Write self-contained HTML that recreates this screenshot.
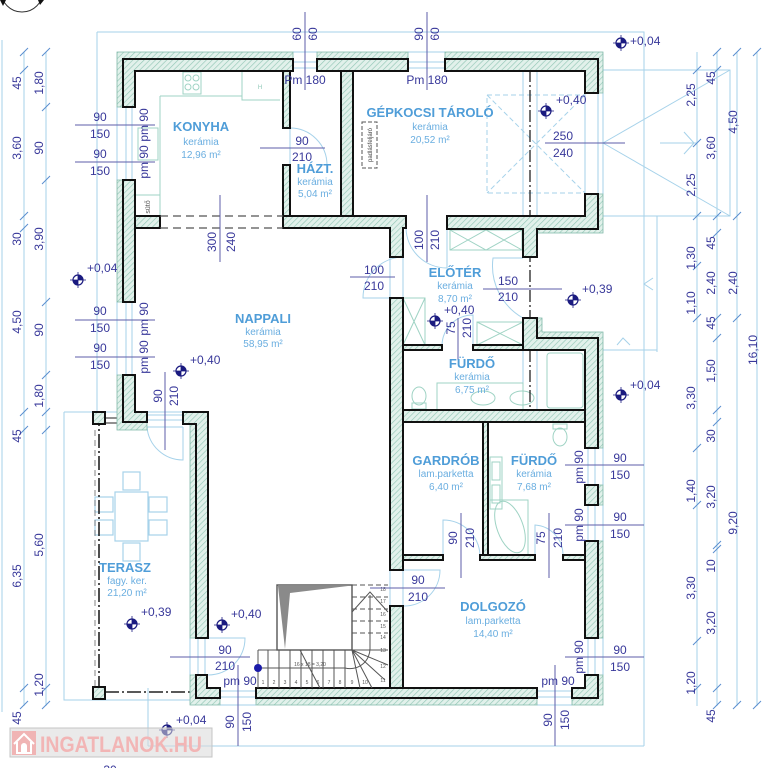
<!DOCTYPE html>
<html><head><meta charset="utf-8">
<style>
html,body{margin:0;padding:0;background:#fff;width:777px;height:768px;overflow:hidden}
svg{display:block}
.d{fill:#38389a;font-size:12px;text-anchor:middle}
.t{fill:#4f9dd8;font-size:13px;font-weight:bold;text-anchor:middle}
.s{fill:#6aaee0;font-size:10px;text-anchor:middle}
.lv{fill:#38389a;font-size:12px}
</style></head>
<body>
<svg width="777" height="768" viewBox="0 0 777 768" xmlns="http://www.w3.org/2000/svg" font-family="Liberation Sans, Arial, sans-serif">
<defs>
<pattern id="h" width="4" height="4" patternUnits="userSpaceOnUse" patternTransform="rotate(45)"><rect width="4" height="4" fill="#e2f1eb"/><line x1="0" y1="0" x2="0" y2="4" stroke="#93c7b6" stroke-width="1.3"/></pattern>
<g id="lv"><circle r="5" fill="#fff" stroke="#1b1b80" stroke-width="1.2"/><path d="M0,0V-5A5,5 0 0 1 5,0Z M0,0V5A5,5 0 0 1 -5,0Z" fill="#1b1b80"/><path d="M-8,0H8M0,-8V8" stroke="#1b1b80" stroke-width="0.8"/></g>
</defs>

<!-- north arrow partial -->
<circle cx="22" cy="-9" r="21" fill="none" stroke="#333" stroke-width="1"/>
<path d="M0,0 L6,0 L3,6Z" fill="#111"/><path d="M38,0 L44,0 L40,5Z" fill="#111"/>

<!-- light outline lines -->
<g fill="none" stroke="#a6d2ea" stroke-width="1">
<path d="M97,32 H644 V746"/>
<path d="M97,32 V412"/>
<path d="M148,746 H644"/><path d="M148,688 V746"/>
<path d="M2,40 V712"/><path d="M24,52 V706"/><path d="M46,52 V706"/>
<path d="M697,52 V706"/><path d="M717,52 V706"/><path d="M737,52 V706"/><path d="M757,52 V706"/>
<path d="M598,70 H730 V216 H598"/><path d="M603,143 L730,70"/><path d="M603,143 L730,216"/>
<path d="M660,143 H697"/><path d="M684,132 L694,143 L684,154"/>
<path d="M644,216 V352"/><path d="M657,216 V352"/><path d="M598,350 H657"/>
<path d="M653,278 L644,284 L653,290"/><path d="M617,345 L623,338 L630,345"/>
<path d="M64,412 H190"/><path d="M64,412 V700 H196"/>
<path d="M523,71 V216"/><path d="M537,71 V216"/><path d="M523,350 V410"/><path d="M537,350 V410"/>
<!-- windows -->
<path d="M117,107 V180 M126,107 V180 M132,107 V180"/>
<path d="M117,302 V375 M126,302 V375 M132,302 V375"/>
<path d="M293,52 H317 M293,62 H317 M293,68 H317"/>
<path d="M408,52 H445 M408,62 H445 M408,68 H445"/>
<path d="M220,691 H256 M220,697 H256 M220,705 H256"/>
<path d="M537,691 H572 M537,697 H572 M537,705 H572"/>
<path d="M588,448 V485 M595,448 V485 M603,448 V485"/>
<path d="M588,505 V541 M595,505 V541 M603,505 V541"/>
<path d="M588,638 V675 M595,638 V675 M603,638 V675"/>
<path d="M585,93 V194 M598,93 V194 M603,93 V194"/>
<path d="M147,415 H183 M147,420 H183 M147,427 H183"/>
<path d="M190,638 V675 M198,638 V675 M205,638 V675"/>
<path d="M403,257 V298 M390,257 V298"/>
<path d="M390,570 V606 M403,570 V606"/>
<!-- door arcs -->
<path d="M290,165 V128 A37,37 0 0 1 327,165"/>
<path d="M403,298 H363 A41,41 0 0 1 403,257"/>
<path d="M447,228 V268 A41,41 0 0 1 406,228"/>
<path d="M523,258 H493 A60,60 0 0 0 523,318"/>
<path d="M473,345 V315 A31,31 0 0 0 442,345"/>
<path d="M183,427 V460 A36,36 0 0 1 147,427"/>
<path d="M443,555 V520 A37,37 0 0 1 480,555"/>
<path d="M535,555 V525 A30,30 0 0 1 563,555"/>
<path d="M403,570 H440 A36,36 0 0 1 403,606"/>
<path d="M208,638 H245 A37,37 0 0 1 208,675"/>
<rect x="487" y="95" width="98" height="98" stroke-dasharray="5,3"/>
<path d="M487,95 L585,193 M585,95 L487,193" stroke-dasharray="5,3"/>
</g>

<!-- kitchen / fixtures -->
<g fill="none" stroke="#9fd3c4" stroke-width="1">
<path d="M160,96 H242"/><path d="M242,72 V100 H280"/>
<rect x="183" y="72" width="18" height="22"/>
<circle cx="188" cy="78" r="3"/><circle cx="196" cy="78" r="3"/><circle cx="188" cy="87" r="3"/><circle cx="196" cy="87" r="3"/>
<path d="M160,96 V216"/><rect x="138" y="128" width="20" height="32"/><rect x="135" y="195" width="25" height="21"/>
<rect x="450" y="230" width="72" height="20"/><path d="M450,230 L486,250 L522,230 M450,250 L486,230 L522,250"/>
<rect x="403" y="298" width="22" height="47"/><path d="M403,298 L425,345 M425,298 L403,345"/>
<rect x="477" y="322" width="46" height="23"/><path d="M477,322 L523,345 M523,322 L477,345"/>
<ellipse cx="419" cy="396" rx="7" ry="9"/><rect x="412" y="403" width="14" height="6"/>
<rect x="437" y="383" width="86" height="27"/><ellipse cx="483" cy="398" rx="12" ry="7"/><ellipse cx="522" cy="398" rx="12" ry="7"/>
<rect x="547" y="353" width="36" height="55" rx="3"/>
<ellipse cx="560" cy="437" rx="7" ry="9"/><rect x="553" y="424" width="14" height="5"/>
<rect x="490" y="457" width="12" height="52"/><rect x="492" y="462" width="8" height="18"/><rect x="492" y="485" width="8" height="18"/>
<path d="M490,500 H528 V555"/><ellipse cx="510" cy="527" rx="13" ry="27" transform="rotate(-20 510 527)"/>
</g>
<g fill="none" stroke="#a6d2ea" stroke-width="1.2">
<rect x="115" y="492" width="33" height="49"/>
<rect x="123" y="472" width="17" height="18"/><rect x="123" y="543" width="17" height="18"/>
<rect x="95" y="497" width="18" height="15"/><rect x="95" y="520" width="18" height="15"/>
<rect x="149" y="497" width="18" height="15"/><rect x="149" y="520" width="18" height="15"/>
</g>
<text x="260" y="89" font-size="6" fill="#8fc8b8" text-anchor="middle">H</text>
<text transform="translate(150,207) rotate(-90)" font-size="7" fill="#555" text-anchor="middle">sütő</text>

<!-- garage dash-dot line -->
<path d="M530,70 V423" stroke="#222" stroke-width="1.3" stroke-dasharray="12,3,2,3" fill="none"/>
<!-- terrace dash-dot -->
<path d="M99,412 V692 H196" stroke="#222" stroke-width="1.6" stroke-dasharray="14,3,2,3" fill="none"/>
<path d="M95,430 V690" stroke="#666" stroke-width="0.8" stroke-dasharray="6,4" fill="none"/>
<path d="M105,418 H130 M105,423 H130" stroke="#222" stroke-width="1" fill="none"/>

<!-- padlasfeljaro -->
<rect x="362" y="122" width="15" height="46" fill="none" stroke="#555" stroke-width="1" stroke-dasharray="4,2"/>
<text transform="translate(372,145) rotate(-90)" font-size="6" fill="#444" text-anchor="middle">padlásfeljáró</text>

<!-- insulation layers -->
<g fill="url(#h)" stroke="#7fb8a8" stroke-width="0.8">
<path d="M117,52 H293 V59 H123 V107 H117 Z"/>
<path d="M117,180 H123 V302 H117 Z"/>
<path d="M117,375 H123 V422 H147 V430 H117 Z"/>
<path d="M190,424 H196 V638 H190 Z"/>
<path d="M190,675 H196 V698 H220 V705 H190 Z"/>
<path d="M256,698 H537 V705 H256 Z"/>
<path d="M598,675 H603 V705 H572 V698 H598 Z"/>
<path d="M598,541 H603 V638 H598 Z"/>
<path d="M598,485 H603 V505 H598 Z"/>
<path d="M537,318 H542 V332 H603 V448 H598 V338 H537 Z"/>
<path d="M445,52 H603 V93 H598 V59 H445 Z"/>
<path d="M317,52 H408 V59 H317 Z"/>
<path d="M598,194 H603 V233 H537 V229 H598 Z"/>
</g>

<!-- structural walls -->
<g fill="url(#h)" stroke="#111" stroke-width="2" stroke-linejoin="miter">
<path d="M123,59 H293 V71 H135 V107 H123 Z"/>
<path d="M123,180 H135 V302 H123 Z"/>
<path d="M135,216 H160 V228 H135 Z"/>
<path d="M123,375 H135 V412 H147 V422 H123 Z"/>
<path d="M183,412 H208 V638 H196 V424 H183 Z"/>
<path d="M196,675 H207 V688 H220 V698 H196 Z"/>
<path d="M256,688 H537 V698 H256 Z"/>
<path d="M572,688 H585 V675 H598 V698 H572 Z"/>
<path d="M585,541 H598 V638 H585 Z"/>
<path d="M585,485 H598 V505 H585 Z"/>
<path d="M523,318 H537 V338 H598 V448 H585 V350 H523 Z"/>
<path d="M445,59 H598 V93 H585 V71 H445 Z"/>
<path d="M317,59 H408 V71 H317 Z"/>
<path d="M585,194 H598 V229 H537 V257 H523 V229 H447 V216 H585 Z"/>
<path d="M283,216 H406 V228 H403 V257 H390 V228 H283 Z"/>
<path d="M283,71 H290 V128 H283 Z"/>
<path d="M283,165 H290 V216 H283 Z"/>
<path d="M341,71 H353 V216 H341 Z"/>
<path d="M390,298 H403 V570 H390 Z"/>
<path d="M390,606 H403 V688 H390 Z"/>
<path d="M403,345 H442 V350 H403 Z"/>
<path d="M473,345 H523 V350 H473 Z"/>
<path d="M403,410 H585 V422 H403 Z"/>
<path d="M483,422 H488 V555 H483 Z"/>
<path d="M403,555 H443 V560 H403 Z"/>
<path d="M480,555 H535 V560 H480 Z"/>
<path d="M563,555 H585 V560 H563 Z"/>
<rect x="93" y="412" width="12" height="12"/>
<rect x="93" y="687" width="12" height="12"/>
</g>
<!-- kitchen/nappali dashed beam -->
<path d="M160,216 H283 M160,228 H283" stroke="#555" stroke-width="1.2" stroke-dasharray="8,5" fill="none"/>

<!-- stairs -->
<g fill="none" stroke="#555" stroke-width="1">
<path d="M258,650 V688 M258,650 H277"/>
<path d="M268,650 V688 M279,650 V688 M290,650 V688 M301,650 V688 M312,650 V688 M323,650 V688 M334,650 V688 M345,650 V688"/>
<path d="M352,585 V650" stroke-dasharray="5,3"/>
<path d="M352,585 H388 M352,597 H388 M352,609 H388 M352,621 H388 M352,633 H388" stroke-dasharray="5,3"/>
<path d="M352,612 L370,592 L388,612"/>
<path d="M352,650 L360,688 M352,650 L372,688 M352,650 L385,680 M352,650 L388,665 M352,650 L388,650"/>
<path d="M300,650 L320,688"/>
<path d="M258,668 H345 A20,20 0 0 0 370,648 V595"/>
</g>
<rect x="277" y="585" width="75" height="65" fill="#fff" stroke="#555" stroke-width="1.4"/>
<polygon points="278,586 348,586 290,593 285,649" fill="#8a8a8a"/>
<circle cx="258" cy="668" r="4" fill="#1b1ba8"/>
<g font-size="5" fill="#555" text-anchor="middle">
<text x="310" y="666">16 x 18 = 3,20</text>
<text x="263" y="684">1</text><text x="274" y="684">2</text><text x="285" y="684">3</text><text x="296" y="684">4</text><text x="307" y="684">5</text><text x="318" y="684">6</text><text x="329" y="684">7</text><text x="340" y="684">8</text><text x="352" y="684">9</text><text x="365" y="684">10</text>
<text x="383" y="682">11</text><text x="383" y="668">12</text><text x="383" y="652">13</text><text x="383" y="639">14</text><text x="383" y="628">15</text><text x="383" y="616">16</text><text x="383" y="603">17</text><text x="383" y="591">18</text>
</g>

<!-- dimension lines (dark) -->
<g stroke="#5d5daa" stroke-width="1" fill="none">
<path d="M75,125 H155 M75,162 H155 M75,320 H155 M75,357 H155"/>
<path d="M260,148 H325 M545,143 H625 M350,277 H395 M483,289 H562"/>
<path d="M565,465 H644 M565,525 H644 M565,657 H644 M370,588 H445 M170,657 H250"/>
<path d="M305,12 V90 M427,12 V90"/>
<path d="M220,195 V262 M427,195 V262 M458,318 V360 M165,372 V450 M461,513 V578 M549,513 V578"/>
<path d="M238,665 V746 M555,665 V746"/>
</g>

<!-- ticks -->
<g stroke="#5a8fd0" stroke-width="1">
<path d="M20,56 l8,-8 M20,74 l8,-8 M20,220 l8,-8 M20,232 l8,-8 M20,416 l8,-8 M20,434 l8,-8 M20,692 l8,-8 M20,709 l8,-8"/>
<path d="M42,56 l8,-8 M42,111 l8,-8 M42,184 l8,-8 M42,306 l8,-8 M42,379 l8,-8 M42,416 l8,-8 M42,434 l8,-8 M42,692 l8,-8 M42,709 l8,-8"/>
<path d="M693,74 l8,-8 M693,147 l8,-8 M693,220 l8,-8 M693,270 l8,-8 M693,322 l8,-8 M693,452 l8,-8 M693,509 l8,-8 M693,645 l8,-8 M693,692 l8,-8"/>
<path d="M713,56 l8,-8 M713,74 l8,-8 M713,220 l8,-8 M713,237 l8,-8 M713,322 l8,-8 M713,342 l8,-8 M713,414 l8,-8 M713,426 l8,-8 M713,549 l8,-8 M713,553 l8,-8 M713,692 l8,-8 M713,709 l8,-8"/>
<path d="M733,56 l8,-8 M733,220 l8,-8 M733,322 l8,-8 M733,709 l8,-8 M753,56 l8,-8 M753,709 l8,-8"/>
</g>

<!-- left column dims -->
<g class="d">
<text transform="translate(21,83) rotate(-90)">45</text>
<text transform="translate(21,148) rotate(-90)">3,60</text>
<text transform="translate(21,239) rotate(-90)">30</text>
<text transform="translate(21,322) rotate(-90)">4,50</text>
<text transform="translate(21,436) rotate(-90)">45</text>
<text transform="translate(21,576) rotate(-90)">6,35</text>
<text transform="translate(21,718) rotate(-90)">45</text>
<text transform="translate(43,83) rotate(-90)">1,80</text>
<text transform="translate(43,148) rotate(-90)">90</text>
<text transform="translate(43,239) rotate(-90)">3,90</text>
<text transform="translate(43,330) rotate(-90)">90</text>
<text transform="translate(43,396) rotate(-90)">1,80</text>
<text transform="translate(43,545) rotate(-90)">5,60</text>
<text transform="translate(43,685) rotate(-90)">1,20</text>
<!-- right columns -->
<text transform="translate(695,95) rotate(-90)">2,25</text>
<text transform="translate(695,185) rotate(-90)">2,25</text>
<text transform="translate(695,258) rotate(-90)">1,30</text>
<text transform="translate(695,303) rotate(-90)">1,10</text>
<text transform="translate(695,398) rotate(-90)">3,30</text>
<text transform="translate(695,491) rotate(-90)">1,40</text>
<text transform="translate(695,588) rotate(-90)">3,30</text>
<text transform="translate(695,683) rotate(-90)">1,20</text>
<text transform="translate(715,78) rotate(-90)">45</text>
<text transform="translate(715,148) rotate(-90)">3,60</text>
<text transform="translate(715,243) rotate(-90)">45</text>
<text transform="translate(715,283) rotate(-90)">2,40</text>
<text transform="translate(715,323) rotate(-90)">45</text>
<text transform="translate(715,371) rotate(-90)">1,50</text>
<text transform="translate(715,436) rotate(-90)">30</text>
<text transform="translate(715,497) rotate(-90)">3,20</text>
<text transform="translate(715,566) rotate(-90)">10</text>
<text transform="translate(715,623) rotate(-90)">3,20</text>
<text transform="translate(715,716) rotate(-90)">45</text>
<text transform="translate(737,122) rotate(-90)">4,50</text>
<text transform="translate(737,283) rotate(-90)">2,40</text>
<text transform="translate(737,523) rotate(-90)">9,20</text>
<text transform="translate(757,350) rotate(-90)">16,10</text>
<!-- top -->
<text transform="translate(301,34) rotate(-90)">60</text>
<text transform="translate(317,34) rotate(-90)">60</text>
<text transform="translate(423,34) rotate(-90)">90</text>
<text transform="translate(439,34) rotate(-90)">60</text>
<text x="305" y="84">Pm 180</text>
<text x="427" y="84">Pm 180</text>
<!-- windows/doors horizontal -->
<text x="100" y="121">90</text><text x="100" y="138">150</text>
<text x="100" y="158">90</text><text x="100" y="175">150</text>
<text x="100" y="315">90</text><text x="100" y="332">150</text>
<text x="100" y="352">90</text><text x="100" y="369">150</text>
<text x="302" y="145">90</text><text x="302" y="161">210</text>
<text x="563" y="140">250</text><text x="563" y="157">240</text>
<text x="374" y="274">100</text><text x="374" y="290">210</text>
<text x="508" y="285">150</text><text x="508" y="301">210</text>
<text x="620" y="462">90</text><text x="620" y="479">150</text>
<text x="620" y="521">90</text><text x="620" y="538">150</text>
<text x="620" y="654">90</text><text x="620" y="671">150</text>
<text x="418" y="584">90</text><text x="418" y="601">210</text>
<text x="225" y="654">90</text><text x="225" y="670">210</text>
<text x="240" y="685">pm 90</text>
<text x="558" y="685">pm 90</text>
<!-- rotated in-plan -->
<text transform="translate(148,125) rotate(-90)">pm 90</text>
<text transform="translate(148,162) rotate(-90)">pm 90</text>
<text transform="translate(148,319) rotate(-90)">pm 90</text>
<text transform="translate(148,357) rotate(-90)">pm 90</text>
<text transform="translate(583,467) rotate(-90)">pm 90</text>
<text transform="translate(583,525) rotate(-90)">pm 90</text>
<text transform="translate(583,657) rotate(-90)">pm 90</text>
<text transform="translate(216,242) rotate(-90)">300</text>
<text transform="translate(235,242) rotate(-90)">240</text>
<text transform="translate(423,240) rotate(-90)">100</text>
<text transform="translate(439,240) rotate(-90)">210</text>
<text transform="translate(455,328) rotate(-90)">75</text>
<text transform="translate(471,328) rotate(-90)">210</text>
<text transform="translate(162,396) rotate(-90)">90</text>
<text transform="translate(178,396) rotate(-90)">210</text>
<text transform="translate(457,538) rotate(-90)">90</text>
<text transform="translate(474,538) rotate(-90)">210</text>
<text transform="translate(545,538) rotate(-90)">75</text>
<text transform="translate(562,538) rotate(-90)">210</text>
<text transform="translate(234,722) rotate(-90)">90</text>
<text transform="translate(251,722) rotate(-90)">150</text>
<text transform="translate(552,720) rotate(-90)">90</text>
<text transform="translate(569,720) rotate(-90)">150</text>
<text x="110" y="774">30</text>
</g>

<!-- room labels -->
<text class="t" x="201" y="131">KONYHA</text><text class="s" x="201" y="145">kerámia</text><text class="s" x="201" y="158">12,96 m²</text>
<text class="t" x="315" y="173">HÁZT.</text><text class="s" x="315" y="185">kerámia</text><text class="s" x="315" y="197">5,04 m²</text>
<text class="t" x="430" y="117">GÉPKOCSI TÁROLÓ</text><text class="s" x="430" y="130">kerámia</text><text class="s" x="430" y="143">20,52 m²</text>
<text class="t" x="263" y="323">NAPPALI</text><text class="s" x="263" y="335">kerámia</text><text class="s" x="263" y="347">58,95 m²</text>
<text class="t" x="455" y="277">ELŐTÉR</text><text class="s" x="455" y="289">kerámia</text><text class="s" x="455" y="302">8,70 m²</text>
<text class="t" x="472" y="368">FÜRDŐ</text><text class="s" x="472" y="380">kerámia</text><text class="s" x="472" y="393">6,75 m²</text>
<text class="t" x="446" y="465">GARDRÓB</text><text class="s" x="446" y="477">lam.parketta</text><text class="s" x="446" y="490">6,40 m²</text>
<text class="t" x="534" y="465">FÜRDŐ</text><text class="s" x="534" y="477">kerámia</text><text class="s" x="534" y="490">7,68 m²</text>
<text class="t" x="125" y="572">TERASZ</text><text class="s" x="127" y="584">fagy. ker.</text><text class="s" x="127" y="596">21,20 m²</text>
<text class="t" x="493" y="611">DOLGOZÓ</text><text class="s" x="493" y="624">lam.parketta</text><text class="s" x="493" y="637">14,40 m²</text>

<!-- level markers -->
<use href="#lv" x="621" y="43"/><text class="lv" x="630" y="45">+0,04</text>
<use href="#lv" x="546" y="111"/><text class="lv" x="556" y="104">+0,40</text>
<use href="#lv" x="78" y="280"/><text class="lv" x="87" y="272">+0,04</text>
<use href="#lv" x="181" y="371"/><text class="lv" x="190" y="364">+0,40</text>
<use href="#lv" x="573" y="300"/><text class="lv" x="582" y="293">+0,39</text>
<use href="#lv" x="435" y="321"/><text class="lv" x="444" y="314">+0,40</text>
<use href="#lv" x="621" y="395"/><text class="lv" x="630" y="389">+0,04</text>
<use href="#lv" x="132" y="624"/><text class="lv" x="141" y="616">+0,39</text>
<use href="#lv" x="222" y="625"/><text class="lv" x="231" y="618">+0,40</text>
<use href="#lv" x="167" y="730"/><text class="lv" x="176" y="724">+0,04</text>

<!-- watermark -->
<rect x="10" y="728" width="202" height="29" fill="#d8d8d8" fill-opacity="0.55" stroke="#c4c4c4" stroke-width="1"/>
<rect x="12" y="731" width="24" height="24" fill="#f0b4b4"/>
<path d="M14,744 L24,734 L34,744 M17,742 V753 H31 V742" fill="none" stroke="#fff" stroke-width="2"/>
<path d="M21,753 V746 A3,3 0 0 1 27,746 V753" fill="#fff"/>
<text x="40" y="752" font-size="22" font-weight="bold" fill="#f2b5b5" textLength="162" lengthAdjust="spacingAndGlyphs">INGATLANOK.HU</text>
</svg>
</body></html>
